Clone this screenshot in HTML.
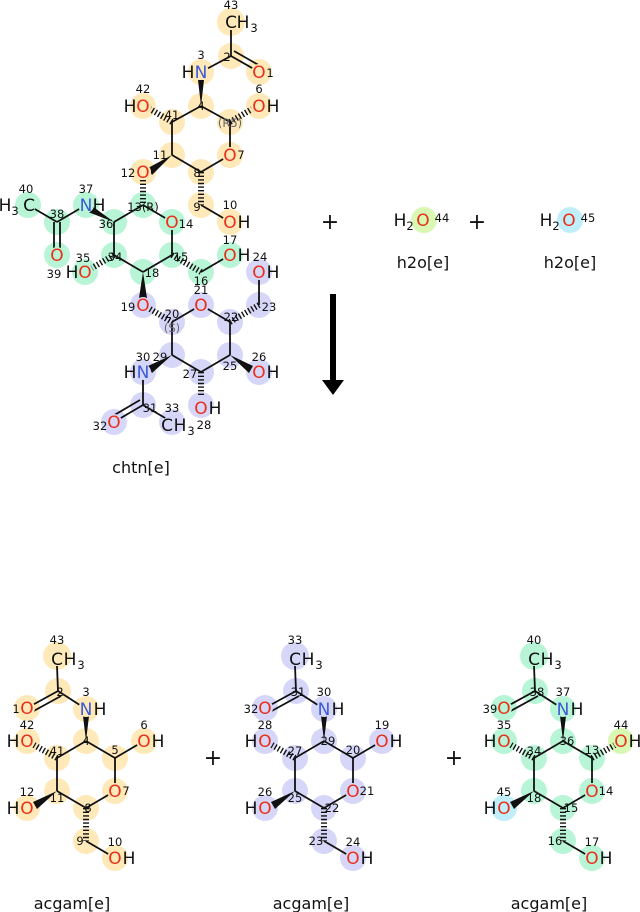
<!DOCTYPE html>
<html><head><meta charset="utf-8"><style>
html,body{margin:0;padding:0;background:#fff;}
svg{display:block;font-family:"DejaVu Sans","Liberation Sans",sans-serif;}
.a{font-size:17px;text-anchor:middle;}
.n{font-size:11.5px;text-anchor:middle;fill:#111;}
.s{font-size:11.5px;}
.O{fill:#e8301a;}
.N{fill:#3a5ad8;}
.k{fill:#111;}
.b line{stroke:#111;stroke-width:1.8;}
.h{stroke:#111;stroke-width:6;stroke-dasharray:1.4 2.2;fill:none;}
.lab{font-size:16px;text-anchor:middle;fill:#111;}
</style></head><body>
<svg width="640" height="912" viewBox="0 0 640 912" xmlns="http://www.w3.org/2000/svg">
<g fill="#ffe9b8">
<circle cx="231" cy="22" r="14"/><circle cx="231" cy="56" r="13"/><circle cx="259" cy="72" r="13"/><circle cx="201" cy="72" r="13"/>
<circle cx="201" cy="106" r="13"/><circle cx="259" cy="106" r="13"/><circle cx="172" cy="122" r="13"/><circle cx="143" cy="106" r="13"/>
<circle cx="230" cy="122" r="13"/><circle cx="230" cy="155" r="13"/><circle cx="172" cy="155" r="13"/><circle cx="201" cy="172" r="13"/>
<circle cx="143" cy="172" r="13"/><circle cx="201" cy="205" r="13"/><circle cx="230" cy="222" r="13"/>
</g>
<g fill="#b8f5d6">
<circle cx="143" cy="205" r="13"/><circle cx="86" cy="205" r="13"/><circle cx="114" cy="222" r="13"/><circle cx="172" cy="222" r="13"/>
<circle cx="57" cy="222" r="13"/><circle cx="28" cy="205" r="13"/><circle cx="57" cy="255" r="13"/><circle cx="114" cy="255" r="13"/>
<circle cx="85" cy="272" r="13"/><circle cx="172" cy="255" r="13"/><circle cx="143" cy="272" r="13"/><circle cx="201" cy="272" r="13"/>
<circle cx="230" cy="255" r="13"/>
</g>
<g fill="#d6d6f8">
<circle cx="143" cy="305" r="13"/><circle cx="172" cy="322" r="13"/><circle cx="201" cy="305" r="13"/><circle cx="230" cy="322" r="13"/>
<circle cx="259" cy="305" r="13"/><circle cx="259" cy="272" r="13"/><circle cx="172" cy="355" r="13"/><circle cx="230" cy="355" r="13"/>
<circle cx="201" cy="372" r="13"/><circle cx="143" cy="372" r="13"/><circle cx="259" cy="372" r="13"/><circle cx="201" cy="405" r="13"/>
<circle cx="143" cy="405" r="13"/><circle cx="114" cy="422" r="13"/><circle cx="172" cy="422" r="13"/>
</g>
<g class="b">
<line x1="231" y1="30" x2="231" y2="56"/>
<line x1="231" y1="56" x2="259" y2="72"/><line x1="234" y1="51" x2="262" y2="67"/>
<line x1="231" y1="56" x2="201" y2="72"/>
<line x1="201" y1="106" x2="172" y2="122"/><line x1="201" y1="106" x2="230" y2="122"/>
<line x1="172" y1="122" x2="172" y2="155"/><line x1="230" y1="122" x2="230" y2="155"/>
<line x1="230" y1="155" x2="201" y2="172"/><line x1="172" y1="155" x2="201" y2="172"/>
<line x1="201" y1="205" x2="230" y2="222"/>
<line x1="143" y1="205" x2="114" y2="222"/><line x1="143" y1="205" x2="172" y2="222"/>
<line x1="86" y1="205" x2="57" y2="222"/><line x1="57" y1="222" x2="28" y2="205"/>
<line x1="54" y1="222" x2="54" y2="255"/><line x1="60" y1="222" x2="60" y2="255"/>
<line x1="114" y1="222" x2="114" y2="255"/><line x1="114" y1="255" x2="143" y2="272"/>
<line x1="143" y1="272" x2="172" y2="255"/><line x1="172" y1="255" x2="172" y2="222"/>
<line x1="201" y1="272" x2="230" y2="255"/>
<line x1="172" y1="322" x2="201" y2="305"/><line x1="201" y1="305" x2="230" y2="322"/>
<line x1="259" y1="305" x2="259" y2="272"/>
<line x1="172" y1="322" x2="172" y2="355"/><line x1="230" y1="322" x2="230" y2="355"/>
<line x1="172" y1="355" x2="201" y2="372"/><line x1="201" y1="372" x2="230" y2="355"/>
<line x1="143" y1="372" x2="143" y2="405"/>
<line x1="143" y1="405" x2="114" y2="422"/><line x1="140" y1="400" x2="111" y2="417"/>
<line x1="143" y1="405" x2="172" y2="422"/>
</g>
<g fill="#111">
<polygon points="201,106 198,80 204,80"/>
<polygon points="172,155 148,168 152,175"/>
<polygon points="114,222 92,206 88,212"/>
<polygon points="143,272 139,298 147,298"/>
<polygon points="172,355 148,366 152,373"/>
<polygon points="230,355 253,366 249,373"/>
</g>
<g class="h">
<line x1="172" y1="122" x2="150" y2="109"/>
<line x1="230" y1="122" x2="252" y2="109"/>
<line x1="201" y1="172" x2="201" y2="205"/>
<line x1="143" y1="180" x2="143" y2="205"/>
<line x1="114" y1="255" x2="92" y2="268"/>
<line x1="172" y1="255" x2="201" y2="272"/>
<line x1="150" y1="309" x2="172" y2="322"/>
<line x1="230" y1="322" x2="259" y2="305"/>
<line x1="201" y1="372" x2="201" y2="397"/>
</g>
<g fill="#ffe9b8"><circle cx="259" cy="72" r="8"/><circle cx="201" cy="72" r="8"/><circle cx="259" cy="106" r="8"/><circle cx="143" cy="106" r="8"/><circle cx="230" cy="155" r="8"/><circle cx="143" cy="172" r="8"/><circle cx="230" cy="222" r="8"/></g>
<g fill="#b8f5d6"><circle cx="86" cy="205" r="8"/><circle cx="172" cy="222" r="8"/><circle cx="57" cy="255" r="8"/><circle cx="85" cy="272" r="8"/><circle cx="230" cy="255" r="8"/><circle cx="28" cy="205" r="8"/></g>
<g fill="#d6d6f8"><circle cx="143" cy="305" r="8"/><circle cx="201" cy="305" r="8"/><circle cx="259" cy="272" r="8"/><circle cx="143" cy="372" r="8"/><circle cx="259" cy="372" r="8"/><circle cx="201" cy="405" r="8"/><circle cx="114" cy="422" r="8"/><circle cx="172" cy="422" r="8"/></g>
<g class="a">
<text x="231" y="28" class="k">C</text><text x="243" y="28" class="k">H</text><text x="254" y="32" class="k s">3</text>
<text x="259" y="78" class="O">O</text>
<text x="201" y="78" class="N">N</text><text x="188" y="78" class="k">H</text>
<text x="259" y="112" class="O">O</text><text x="273" y="112" class="k">H</text>
<text x="143" y="112" class="O">O</text><text x="130" y="112" class="k">H</text>
<text x="230" y="161" class="O">O</text>
<text x="143" y="178" class="O">O</text>
<text x="230" y="228" class="O">O</text><text x="244" y="228" class="k">H</text>
<text x="86" y="211" class="N">N</text><text x="99" y="211" class="k">H</text>
<text x="172" y="228" class="O">O</text>
<text x="29" y="211" class="k">C</text><text x="5" y="211" class="k">H</text><text x="15" y="215" class="k s">3</text>
<text x="57" y="261" class="O">O</text>
<text x="85" y="278" class="O">O</text><text x="72" y="278" class="k">H</text>
<text x="230" y="261" class="O">O</text><text x="244" y="261" class="k">H</text>
<text x="143" y="311" class="O">O</text>
<text x="201" y="311" class="O">O</text>
<text x="259" y="278" class="O">O</text><text x="273" y="278" class="k">H</text>
<text x="143" y="378" class="N">N</text><text x="130" y="378" class="k">H</text>
<text x="259" y="378" class="O">O</text><text x="273" y="378" class="k">H</text>
<text x="201" y="414" class="O">O</text><text x="215" y="414" class="k">H</text>
<text x="114" y="428" class="O">O</text>
<text x="167" y="431" class="k">C</text><text x="180" y="431" class="k">H</text><text x="191" y="435" class="k s">3</text>
</g>
<g class="n">
<text x="231" y="9">43</text><text x="227" y="61">2</text><text x="270" y="77">1</text><text x="201" y="59">3</text>
<text x="201" y="110">4</text><text x="259" y="93">6</text><text x="172" y="119">41</text><text x="143" y="93">42</text>
<text x="230" y="127" fill="#666">(R5)</text><text x="241" y="159">7</text><text x="160" y="159">11</text><text x="197" y="177">8</text>
<text x="128" y="177">12</text><text x="197" y="211">9</text><text x="230" y="209">10</text>
<text x="143" y="211">13(R)</text><text x="86" y="193">37</text><text x="106" y="228">36</text><text x="186" y="228">14</text>
<text x="57" y="218">38</text><text x="26" y="193">40</text><text x="54" y="278">39</text><text x="115" y="261">34</text>
<text x="83" y="262">35</text><text x="181" y="261">15</text><text x="152" y="277">18</text><text x="201" y="285">16</text>
<text x="230" y="244">17</text><text x="128" y="311">19</text><text x="172" y="318">20</text><text x="172" y="332" fill="#666">(S)</text>
<text x="201" y="294">21</text><text x="231" y="321">22</text><text x="269" y="311">23</text><text x="260" y="261">24</text>
<text x="160" y="361">29</text><text x="143" y="361">30</text><text x="190" y="378">27</text><text x="230" y="370">25</text>
<text x="259" y="361">26</text><text x="204" y="429">28</text><text x="150" y="412">31</text><text x="100" y="430">32</text><text x="172" y="412">33</text>
</g>
<text x="141" y="473" class="lab">chtn[e]</text>

<text x="330" y="229" class="lab" style="font-size:22px">+</text>
<text x="477" y="229" class="lab" style="font-size:22px">+</text>
<circle cx="424" cy="220" r="13" fill="#d8f8b4"/>
<circle cx="570" cy="220" r="13" fill="#c0eefa"/>
<g class="a">
<text x="400" y="226" class="k">H</text><text x="410" y="230" class="k s">2</text><text x="423" y="226" class="O">O</text>
<text x="546" y="226" class="k">H</text><text x="556" y="230" class="k s">2</text><text x="569" y="226" class="O">O</text>
</g>
<text x="442" y="222" class="n" style="text-anchor:middle">44</text>
<text x="588" y="222" class="n" style="text-anchor:middle">45</text>
<text x="423" y="268" class="lab">h2o[e]</text>
<text x="570" y="268" class="lab">h2o[e]</text>

<rect x="330" y="294" width="6" height="86" fill="#000"/>
<polygon points="322,380 344,380 333,395" fill="#000"/>

<defs>
<g id="tb">
<g class="b">
<line x1="57" y1="666" x2="58" y2="691"/>
<line x1="58" y1="691" x2="27" y2="708"/><line x1="61" y1="696" x2="30" y2="713"/>
<line x1="58" y1="691" x2="86" y2="709"/>
<line x1="86" y1="741" x2="57" y2="758"/><line x1="86" y1="741" x2="115" y2="758"/>
<line x1="57" y1="758" x2="57" y2="791"/><line x1="115" y1="758" x2="115" y2="791"/>
<line x1="115" y1="791" x2="86" y2="808"/><line x1="57" y1="791" x2="86" y2="808"/>
<line x1="86" y1="841" x2="115" y2="858"/>
</g>
<polygon points="86,741 83,716 89,716" fill="#111"/>
<polygon points="57,791 33,802 37,809" fill="#111"/>
<line class="h" x1="57" y1="758" x2="34" y2="745"/>
<line class="h" x1="86" y1="808" x2="86" y2="841"/>
</g>
</defs>

<g fill="#ffe9b8">
<circle cx="57" cy="656" r="14"/><circle cx="58" cy="691" r="13"/><circle cx="27" cy="708" r="13"/><circle cx="86" cy="709" r="13"/>
<circle cx="86" cy="741" r="13"/><circle cx="57" cy="758" r="13"/><circle cx="115" cy="758" r="13"/><circle cx="144" cy="741" r="13"/>
<circle cx="27" cy="741" r="13"/><circle cx="115" cy="791" r="13"/><circle cx="57" cy="791" r="13"/><circle cx="27" cy="808" r="13"/>
<circle cx="86" cy="808" r="13"/><circle cx="86" cy="841" r="13"/><circle cx="115" cy="858" r="13"/>
</g>
<g fill="#d6d6f8" transform="translate(238,0)">
<circle cx="57" cy="656" r="14"/><circle cx="58" cy="691" r="13"/><circle cx="27" cy="708" r="13"/><circle cx="86" cy="709" r="13"/>
<circle cx="86" cy="741" r="13"/><circle cx="57" cy="758" r="13"/><circle cx="115" cy="758" r="13"/><circle cx="144" cy="741" r="13"/>
<circle cx="27" cy="741" r="13"/><circle cx="115" cy="791" r="13"/><circle cx="57" cy="791" r="13"/><circle cx="27" cy="808" r="13"/>
<circle cx="86" cy="808" r="13"/><circle cx="86" cy="841" r="13"/><circle cx="115" cy="858" r="13"/>
</g>
<g fill="#b8f5d6" transform="translate(477,0)">
<circle cx="57" cy="656" r="14"/><circle cx="58" cy="691" r="13"/><circle cx="27" cy="708" r="13"/><circle cx="86" cy="709" r="13"/>
<circle cx="86" cy="741" r="13"/><circle cx="57" cy="758" r="13"/><circle cx="115" cy="758" r="13"/>
<circle cx="27" cy="741" r="13"/><circle cx="115" cy="791" r="13"/><circle cx="57" cy="791" r="13"/>
<circle cx="86" cy="808" r="13"/><circle cx="86" cy="841" r="13"/><circle cx="115" cy="858" r="13"/>
<circle cx="144" cy="741" r="13" fill="#d8f8b4"/><circle cx="27" cy="808" r="13" fill="#c0eefa"/>
</g>

<use href="#tb"/>
<use href="#tb" transform="translate(238,0)"/>
<use href="#tb" transform="translate(477,0)"/>
<line x1="115" y1="758" x2="144" y2="741" stroke="#111" stroke-width="1.8"/>
<line x1="353" y1="758" x2="382" y2="741" stroke="#111" stroke-width="1.8"/>
<line class="h" x1="592" y1="758" x2="615" y2="745"/>

<g fill="#ffe9b8"><circle cx="27" cy="708" r="8"/><circle cx="86" cy="709" r="8"/><circle cx="144" cy="741" r="8"/><circle cx="27" cy="741" r="8"/><circle cx="115" cy="791" r="8"/><circle cx="27" cy="808" r="8"/><circle cx="115" cy="858" r="8"/><circle cx="57" cy="656" r="8"/></g>
<g fill="#d6d6f8" transform="translate(238,0)"><circle cx="27" cy="708" r="8"/><circle cx="86" cy="709" r="8"/><circle cx="144" cy="741" r="8"/><circle cx="27" cy="741" r="8"/><circle cx="115" cy="791" r="8"/><circle cx="27" cy="808" r="8"/><circle cx="115" cy="858" r="8"/><circle cx="57" cy="656" r="8"/></g>
<g fill="#b8f5d6" transform="translate(477,0)"><circle cx="27" cy="708" r="8"/><circle cx="86" cy="709" r="8"/><circle cx="144" cy="741" r="8" fill="#d8f8b4"/><circle cx="27" cy="741" r="8"/><circle cx="115" cy="791" r="8"/><circle cx="27" cy="808" r="8" fill="#c0eefa"/><circle cx="115" cy="858" r="8"/><circle cx="57" cy="656" r="8"/></g>

<g class="a">
<text x="57" y="665" class="k">C</text><text x="70" y="665" class="k">H</text><text x="81" y="669" class="k s">3</text>
<text x="27" y="714" class="O">O</text>
<text x="86" y="715" class="N">N</text><text x="100" y="715" class="k">H</text>
<text x="144" y="747" class="O">O</text><text x="158" y="747" class="k">H</text>
<text x="27" y="747" class="O">O</text><text x="13" y="747" class="k">H</text>
<text x="115" y="797" class="O">O</text>
<text x="27" y="814" class="O">O</text><text x="13" y="814" class="k">H</text>
<text x="115" y="864" class="O">O</text><text x="129" y="864" class="k">H</text>
</g>
<g class="a" transform="translate(238,0)">
<text x="57" y="665" class="k">C</text><text x="70" y="665" class="k">H</text><text x="81" y="669" class="k s">3</text>
<text x="27" y="714" class="O">O</text>
<text x="86" y="715" class="N">N</text><text x="100" y="715" class="k">H</text>
<text x="144" y="747" class="O">O</text><text x="158" y="747" class="k">H</text>
<text x="27" y="747" class="O">O</text><text x="13" y="747" class="k">H</text>
<text x="115" y="797" class="O">O</text>
<text x="27" y="814" class="O">O</text><text x="13" y="814" class="k">H</text>
<text x="115" y="864" class="O">O</text><text x="129" y="864" class="k">H</text>
</g>
<g class="a" transform="translate(477,0)">
<text x="57" y="665" class="k">C</text><text x="70" y="665" class="k">H</text><text x="81" y="669" class="k s">3</text>
<text x="27" y="714" class="O">O</text>
<text x="86" y="715" class="N">N</text><text x="100" y="715" class="k">H</text>
<text x="144" y="747" class="O">O</text><text x="158" y="747" class="k">H</text>
<text x="27" y="747" class="O">O</text><text x="13" y="747" class="k">H</text>
<text x="115" y="797" class="O">O</text>
<text x="27" y="814" class="O">O</text><text x="13" y="814" class="k">H</text>
<text x="115" y="864" class="O">O</text><text x="129" y="864" class="k">H</text>
</g>
<g class="n">
<text x="57" y="644">43</text><text x="60" y="696">2</text><text x="16" y="713">1</text><text x="86" y="696">3</text>
<text x="86" y="745">4</text><text x="27" y="729">42</text><text x="57" y="755">41</text><text x="115" y="754">5</text>
<text x="144" y="729">6</text><text x="126" y="795">7</text><text x="57" y="802">11</text><text x="27" y="796">12</text>
<text x="88" y="812">8</text><text x="80" y="845">9</text><text x="115" y="846">10</text>
</g>
<g class="n" transform="translate(238,0)">
<text x="57" y="644">33</text><text x="60" y="696">31</text><text x="13" y="713">32</text><text x="86" y="696">30</text>
<text x="90" y="745">29</text><text x="27" y="729">28</text><text x="57" y="755">27</text><text x="115" y="754">20</text>
<text x="144" y="729">19</text><text x="129" y="795">21</text><text x="57" y="802">25</text><text x="27" y="796">26</text>
<text x="94" y="812">22</text><text x="78" y="845">23</text><text x="115" y="846">24</text>
</g>
<g class="n" transform="translate(477,0)">
<text x="57" y="644">40</text><text x="60" y="696">38</text><text x="13" y="713">39</text><text x="86" y="696">37</text>
<text x="90" y="745">36</text><text x="27" y="729">35</text><text x="57" y="755">34</text><text x="115" y="754">13</text>
<text x="144" y="729">44</text><text x="129" y="795">14</text><text x="57" y="802">18</text><text x="27" y="796">45</text>
<text x="94" y="812">15</text><text x="78" y="845">16</text><text x="115" y="846">17</text>
</g>
<text x="213" y="765" class="lab" style="font-size:22px">+</text>
<text x="454" y="765" class="lab" style="font-size:22px">+</text>
<text x="72" y="909" class="lab">acgam[e]</text>
<text x="311" y="909" class="lab">acgam[e]</text>
<text x="549" y="909" class="lab">acgam[e]</text>
</svg>
</body></html>
